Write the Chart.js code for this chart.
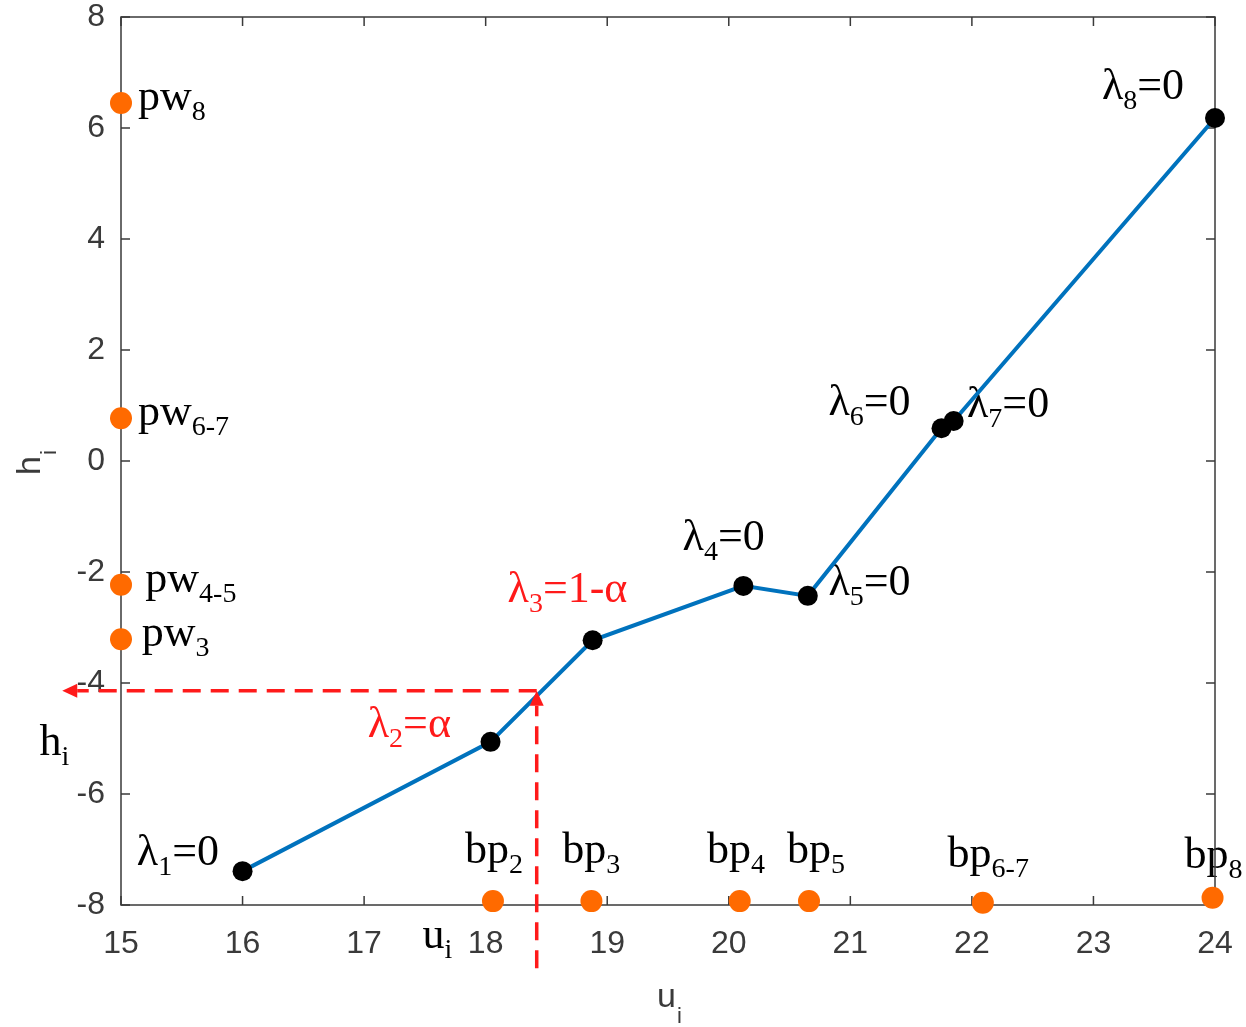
<!DOCTYPE html>
<html><head><meta charset="utf-8">
<script src="https://cdn.jsdelivr.net/npm/chart.js@4/dist/chart.umd.min.js"></script>
<style>html,body{margin:0;padding:0;background:#fff}#wrap{width:1246px;height:1027px;position:relative}</style>
</head><body><div id="wrap"><canvas id="c" width="1246" height="1027"></canvas></div>
<script>
// ---- data ----
const lineU = [16, 18.04, 18.88, 20.12, 20.65, 21.75, 21.85, 24];
const lineH = [-7.39, -5.06, -3.23, -2.25, -2.43, 0.59, 0.72, 6.18];
const bpU = [18.06, 18.87, 20.09, 20.66, 22.09, 23.98];
const bpH = [-7.93, -7.93, -7.93, -7.93, -7.96, -7.87];
const pwU = [15, 15, 15, 15];
const pwH = [6.45, 0.77, -2.23, -3.21];
const hDashU = [18.42, 14.64];
const hDashH = [-4.14, -4.14];
const vDashU = [18.42, 18.42];
const vDashH = [-9.14, -4.41];
const xTickVals = [15, 16, 17, 18, 19, 20, 21, 22, 23, 24];
const yTickVals = [-8, -6, -4, -2, 0, 2, 4, 6, 8];
// annotation texts: main, subscript, rest; anchor in data units
const noteMain = ['λ','λ','λ','λ','λ','λ','λ','λ','bp','bp','bp','bp','bp','bp','pw','pw','pw','pw','h','u'];
const noteSub  = ['1','2','3','4','5','6','7','8','2','3','4','5','6-7','8','8','6-7','4-5','3','i','i'];
const noteRest = ['=0','=α','=1-α','=0','=0','=0','=0','=0','','','','','','','','','','','',''];
const noteRed  = [false,true,true,false,false,false,false,false,false,false,false,false,false,false,false,false,false,false,false,false];
const noteU = [15.13, 17.03, 18.18, 19.62, 20.82, 20.82, 21.96, 23.07, 17.83, 18.63, 19.82, 20.48, 21.80, 23.75, 15.14, 15.14, 15.20, 15.17, 14.33, 17.48];
const noteH = [-7.28, -4.97, -2.54, -1.60, -2.41, 0.83, 0.79, 6.52, -7.24, -7.24, -7.24, -7.24, -7.32, -7.33, 6.32, 0.65, -2.36, -3.33, -5.30, -8.77];

const ORANGE = '#ff6a00', BLUE = '#0072bd', RED = '#ff1a1a', AXIS = '#3a3a3a';
const pts = (us, hs) => us.map((u, i) => ({x: u, y: hs[i]}));

function rich(ctx, x, y, main, sub, rest, F, S, off, fam) {
  ctx.textBaseline = 'alphabetic'; ctx.textAlign = 'left';
  ctx.font = F + 'px ' + fam; ctx.fillText(main, x, y); x += ctx.measureText(main).width;
  if (sub) { ctx.font = S + 'px ' + fam; ctx.fillText(sub, x, y + off); x += ctx.measureText(sub).width; }
  if (rest) { ctx.font = F + 'px ' + fam; ctx.fillText(rest, x, y); }
}

const decor = {
  id: 'decor',
  beforeDatasetsDraw(chart) {
    const ctx = chart.ctx, xs = chart.scales.x, ys = chart.scales.y, a = chart.chartArea;
    ctx.save();
    const serif = '"Liberation Serif", "Times New Roman", serif';
    for (let i = 0; i < noteMain.length; i++) {
      const px = xs.getPixelForValue(noteU[i]), py = ys.getPixelForValue(noteH[i]);
      ctx.fillStyle = noteRed[i] ? RED : '#000';
      rich(ctx, px, py, noteMain[i], noteSub[i], noteRest[i], 44, 28, 10, serif);
    }
    const sans = '"Liberation Sans", Arial, sans-serif';
    ctx.fillStyle = AXIS;
    ctx.font = '34px ' + sans;
    const wu = ctx.measureText('u').width;
    const cx = (a.left + a.right) / 2;
    ctx.fillText('u', cx - 11, a.bottom + 102);
    ctx.font = '22px ' + sans; ctx.fillText('i', cx - 11 + wu + 1, a.bottom + 118);
    ctx.save();
    ctx.translate(a.left - 81, (a.top + a.bottom) / 2 + 14);
    ctx.rotate(-Math.PI / 2);
    ctx.font = '34px ' + sans; const wh = ctx.measureText('h').width;
    ctx.fillText('h', 0, 0);
    ctx.font = '22px ' + sans; ctx.fillText('i', wh + 1, 16);
    ctx.restore();
    ctx.strokeStyle = AXIS; ctx.lineWidth = 1.5;
    ctx.strokeRect(a.left, a.top, a.right - a.left, a.bottom - a.top);
    const tl = 9;
    ctx.beginPath();
    xTickVals.forEach(v => { const p = xs.getPixelForValue(v);
      ctx.moveTo(p, a.bottom); ctx.lineTo(p, a.bottom - tl);
      ctx.moveTo(p, a.top); ctx.lineTo(p, a.top + tl); });
    yTickVals.forEach(v => { const p = ys.getPixelForValue(v);
      ctx.moveTo(a.left, p); ctx.lineTo(a.left + tl, p);
      ctx.moveTo(a.right, p); ctx.lineTo(a.right - tl, p); });
    ctx.stroke();
    ctx.restore();
  },
  afterDatasetsDraw(chart) {
    const ctx = chart.ctx;
    ctx.save();
    ctx.fillStyle = RED;
    [3, 4].forEach(i => {
      const d = chart.getDatasetMeta(i).data;
      const p0 = d[0], p1 = d[d.length - 1];
      const ang = Math.atan2(p1.y - p0.y, p1.x - p0.x);
      const dx = Math.cos(ang), dy = Math.sin(ang), L = 15, W = 7;
      ctx.beginPath();
      ctx.moveTo(p1.x + dx * L, p1.y + dy * L);
      ctx.lineTo(p1.x - dy * W, p1.y + dx * W);
      ctx.lineTo(p1.x + dy * W, p1.y - dx * W);
      ctx.closePath(); ctx.fill();
    });
    ctx.restore();
  }
};

new Chart(document.getElementById('c'), {
  type: 'scatter',
  data: {
    datasets: [
      { data: pts(pwU, pwH), pointRadius: 11, pointBackgroundColor: ORANGE, pointBorderWidth: 0, clip: false, order: 1 },
      { data: pts(bpU, bpH), pointRadius: 11, pointBackgroundColor: ORANGE, pointBorderWidth: 0, clip: false, order: 1 },
      { data: pts(lineU, lineH), showLine: true, borderColor: BLUE, borderWidth: 4, pointRadius: 10,
        pointBackgroundColor: '#000', pointBorderWidth: 0, clip: false, order: 2 },
      { data: pts(hDashU, hDashH), showLine: true, borderColor: RED, borderWidth: 3.5, borderDash: [18, 10],
        pointRadius: 0, clip: false, order: 3 },
      { data: pts(vDashU, vDashH), showLine: true, borderColor: RED, borderWidth: 3.5, borderDash: [18, 10],
        pointRadius: 0, clip: false, order: 3 }
    ]
  },
  options: {
    responsive: false, animation: false, devicePixelRatio: 1,
    layout: { padding: { left: 0, right: 31, top: 17, bottom: 0 } },
    plugins: { legend: { display: false }, tooltip: { enabled: false } },
    scales: {
      x: { type: 'linear', min: 15, max: 24,
        afterBuildTicks: s => { s.ticks = xTickVals.map(v => ({value: v})); },
        afterFit: s => { s.height = 122; s.paddingLeft = 0; s.paddingRight = 0; },
        grid: { display: false, drawTicks: false }, border: { display: false },
        ticks: { padding: 20, color: AXIS, font: { family: '"Liberation Sans", Arial, sans-serif', size: 32 }, maxRotation: 0 } },
      y: { type: 'linear', min: -8, max: 8,
        afterBuildTicks: s => { s.ticks = yTickVals.map(v => ({value: v})); },
        afterFit: s => { s.width = 121; s.paddingTop = 0; s.paddingBottom = 0; },
        grid: { display: false, drawTicks: false }, border: { display: false },
        ticks: { padding: 16, color: AXIS, font: { family: '"Liberation Sans", Arial, sans-serif', size: 32 } } }
    }
  },
  plugins: [decor]
});
</script></body></html>
